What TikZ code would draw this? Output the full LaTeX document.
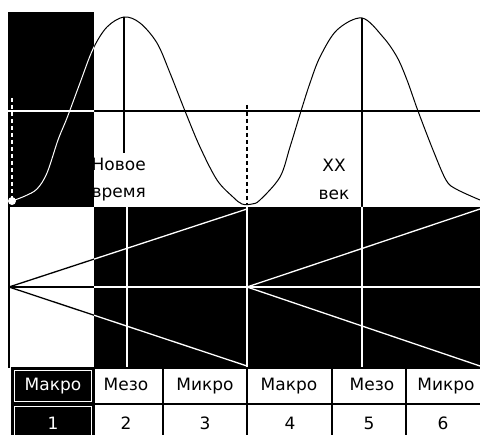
\documentclass[tikz,border=0pt]{standalone}
\usepackage{fontspec}
\setmainfont{DejaVu Sans}
\begin{document}
\begin{tikzpicture}[x=1pt,y=-1pt,line width=1.3pt,
  lbl/.style={font=\fontsize{17}{20}\selectfont,inner sep=0pt,anchor=base},
  dsh/.style={dash pattern=on 4pt off 3pt}]
\useasboundingbox (0,0) rectangle (480,435);
\fill[white] (0,0) rectangle (480,435);
% black areas
\fill[black] (8,12) rectangle (94,207);
\fill[black] (94,207) rectangle (480,368);
\newcommand\chartlines{%
  \draw[line width=1pt] plot[smooth,tension=0.55] coordinates {(12,201) (25,196) (37,189) (47,173)
    (58,140) (67,118) (80,83) (93,49) (107,27) (124,17) (140,23) (157,43) (170,73)
    (185,111) (200,147) (217,180) (233,197) (242,204) (252,204) (260,200) (280,177)
    (290,147) (301,111) (310,83) (320,57) (337,30) (362,18) (383,37) (397,57)
    (407,80) (418,111) (433,150) (446,180) (456,189) (480,200)};
  \draw (8,111) -- (480,111);
  \draw (9,287) -- (480,287);
  \draw (9,287) -- (247,209);
  \draw (9,287) -- (247,366);
  \draw (247,287) -- (480,209);
  \draw (247,287) -- (480,366);
  \draw (124,17) -- (124,153);
  \draw (127,207) -- (127,368);
  \draw (362,18) -- (362,368);
  \draw (247,207) -- (247,368);
  \draw (9,207) -- (9,368);
  \draw[dsh] (12,98) -- (12,200);
  \draw[dsh] (247,105) -- (247,205);
}
\begin{scope}[black]
\chartlines
\end{scope}
\begin{scope}
\clip (8,12) rectangle (94,207) (94,207) rectangle (480,368);
\begin{scope}[white]
\chartlines
\end{scope}
\end{scope}
\fill[white] (12,201) circle (4);
% labels
\node[lbl,anchor=base west] (nv1) at (91,171) {Новое};
\node[lbl,anchor=base west] (nv2) at (91,198) {время};
\node[lbl] (xx1) at (334,172) {XX};
\node[lbl] (xx2) at (334,200) {век};
% table
\fill[black] (12,368) rectangle (94,445);
\draw (12,368) rectangle (490,445);
\draw (12,404) -- (490,404);
\foreach \c in {94,163,247,332,406} \draw (\c,368) -- (\c,445);
\draw[white,line width=1pt] (14.5,370.5) rectangle (91.5,401.5);
\draw[white,line width=1pt] (14.5,406.5) rectangle (91.5,445);
\node[lbl,white] (h1) at (53,391) {Макро};
\node[lbl] (h2) at (126,391) {Мезо};
\node[lbl] (h3) at (205,391) {Микро};
\node[lbl] (h4) at (289,391) {Макро};
\node[lbl] (h5) at (372,391) {Мезо};
\node[lbl] (h6) at (446,391) {Микро};
\node[lbl,white] (n1) at (53,430) {1};
\node[lbl] (n2) at (126,430) {2};
\node[lbl] (n3) at (205,430) {3};
\node[lbl] (n4) at (290,430) {4};
\node[lbl] (n5) at (369,430) {5};
\node[lbl] (n6) at (443,430) {6};
\end{tikzpicture}
\end{document}
